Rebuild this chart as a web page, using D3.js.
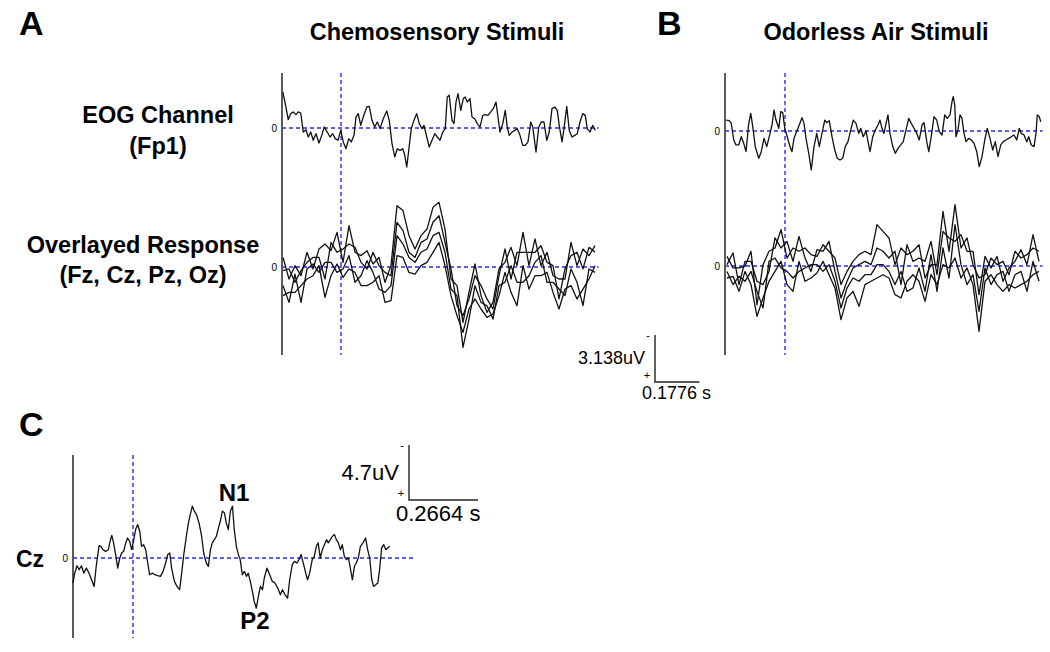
<!DOCTYPE html>
<html>
<head>
<meta charset="utf-8">
<script src="https://cdn.jsdelivr.net/npm/d3@7"></script>
<style>
  body { margin: 0; background: #fff; }
  svg { display: block; font-family: "Liberation Sans", Arial, sans-serif; }
</style>
</head>
<body>
<div class="chart"></div>
<script>
// ---- data: time in ms (stimulus onset = 0), amplitude in uV (negative up) ----

var eogChemo = [[-233,-2.40],[-224,-1.73],[-211,-0.56],[-201,-0.96],[-191,-1.07],[-180,-0.89],[-171,-1.07],[-161,-1.00],[-151,0.27],[-140,0.11],[-131,0.60],[-121,0.27],[-111,0.82],[-100,0.38],[-88,1.00],[-77,0.49],[-67,-0.07],[-55,0.27],[-44,0.60],[-33,0.38],[-23,0.71],[-12,0.82],[-1,0.16],[9,0.93],[20,1.38],[31,0.71],[41,0.93],[52,0.49],[60,-0.73],[69,-0.96],[79,-0.18],[89,-0.73],[103,-1.40],[113,-1.44],[124,-0.51],[135,-0.07],[145,-0.40],[156,0.04],[169,-0.62],[183,-1.13],[193,-0.51],[204,1.04],[215,1.93],[225,1.38],[236,1.49],[247,1.38],[255,1.82],[263,2.60],[271,1.49],[281,0.04],[292,-0.51],[303,-0.96],[313,-0.29],[324,0.04],[332,-0.18],[343,0.60],[353,1.27],[364,0.82],[375,0.38],[385,0.60],[396,0.82],[407,0.27],[417,0.04],[425,-2.07],[433,-2.18],[444,-0.51],[452,-0.29],[460,-1.73],[468,-2.29],[479,-1.18],[489,-1.96],[497,-2.07],[505,-1.73],[516,-1.96],[524,-0.73],[535,-0.62],[545,-0.29],[556,-0.07],[567,-0.84],[577,-0.89],[588,-0.84],[599,-1.07],[609,-1.29],[620,-1.73],[628,-0.73],[636,0.27],[647,-0.29],[657,-1.18],[665,-0.07],[673,0.49],[684,0.27],[695,0.16],[705,0.04],[716,0.49],[727,1.16],[737,1.16],[748,0.93],[759,-0.40],[767,-0.07],[780,1.60],[791,-0.07],[801,-0.40],[812,-0.40],[823,0.82],[833,0.27],[844,-1.29],[855,-1.40],[865,-1.18],[873,-0.18],[884,0.93],[892,0.04],[903,-1.44],[913,0.16],[924,0.60],[935,0.49],[945,0.38],[956,-0.40],[967,-0.96],[977,-0.84],[985,0.04],[996,0.27],[1007,-0.18],[1017,0.16]];

var eogAir = [[-235,-0.73],[-223,-0.69],[-215,-0.51],[-205,0.60],[-196,0.93],[-185,0.93],[-175,0.38],[-165,0.82],[-156,1.38],[-145,-0.51],[-137,-1.18],[-129,-0.29],[-119,1.04],[-105,1.82],[-95,1.38],[-84,0.49],[-73,1.04],[-63,0.38],[-52,-0.40],[-44,-1.40],[-36,-0.73],[-25,-0.18],[-17,-1.29],[-9,-1.22],[-1,-0.18],[9,0.38],[20,1.04],[28,1.38],[36,0.49],[47,0.04],[57,-0.40],[68,-0.89],[76,-0.51],[84,0.49],[95,1.49],[105,2.60],[116,1.04],[127,0.16],[137,1.04],[148,0.16],[159,-0.73],[167,-0.56],[177,-0.69],[188,0.38],[199,1.27],[209,1.82],[220,1.93],[231,1.82],[241,1.04],[252,0.71],[263,-0.07],[273,-0.73],[284,-0.51],[295,0.16],[303,-0.18],[313,0.38],[324,-0.02],[332,0.71],[340,1.38],[351,0.38],[361,-0.07],[372,-0.40],[380,-0.73],[388,-0.18],[396,0.16],[404,-0.51],[412,-1.07],[420,0.16],[431,1.04],[441,1.49],[452,1.16],[463,0.93],[473,0.71],[484,-0.07],[495,-0.84],[505,-0.51],[516,-0.18],[527,0.16],[537,0.60],[548,-0.40],[556,-0.56],[567,0.71],[575,1.38],[585,0.38],[596,-0.96],[607,-0.73],[617,0.04],[628,0.27],[639,-1.07],[649,-0.84],[660,-1.07],[668,-1.96],[673,-2.29],[679,-1.73],[684,0.38],[692,-0.07],[700,-1.07],[708,-0.84],[716,0.16],[724,0.71],[735,0.49],[745,0.60],[756,0.82],[767,1.38],[777,2.38],[788,1.71],[799,0.60],[809,-0.18],[820,0.49],[831,1.27],[841,0.71],[852,1.71],[863,0.93],[873,0.71],[884,0.60],[895,0.49],[905,0.38],[916,0.27],[927,0.60],[937,-0.18],[945,0.16],[956,0.27],[967,0.71],[975,0.38],[985,0.93],[996,1.04],[1004,0.16],[1009,-1.07],[1017,-0.96],[1023,-0.62]];

var czChemo = [[-232,2.14],[-225,1.29],[-216,0.66],[-208,1.00],[-199,0.66],[-190,1.29],[-180,0.86],[-170,1.29],[-160,1.86],[-150,2.43],[-142,0.71],[-131,-1.06],[-124,-1.00],[-116,-0.71],[-106,-0.57],[-95,-0.71],[-90,-1.29],[-82,-1.94],[-75,-1.29],[-67,-0.29],[-59,0.86],[-51,0.00],[-44,-0.43],[-36,-0.57],[-28,-1.29],[-21,-1.71],[-13,-1.43],[-5,-0.71],[3,-1.57],[10,-2.43],[18,-2.86],[26,-2.29],[33,-1.00],[41,-1.14],[49,-0.71],[57,0.43],[64,1.43],[75,1.29],[85,1.43],[95,1.51],[106,1.57],[116,1.14],[126,0.43],[134,-0.29],[142,-0.43],[149,0.86],[160,2.00],[170,2.43],[180,2.71],[188,1.29],[196,-0.29],[206,-1.86],[214,-3.00],[221,-3.71],[229,-4.43],[237,-4.00],[245,-3.71],[255,-3.00],[265,-1.86],[273,-0.43],[283,0.43],[291,0.71],[299,-0.71],[306,-1.29],[314,-1.57],[322,-1.86],[330,-2.57],[337,-3.14],[345,-4.00],[353,-3.86],[360,-3.00],[368,-2.43],[376,-4.00],[384,-4.43],[391,-2.43],[399,-1.00],[407,-0.29],[414,0.14],[422,1.43],[430,1.14],[438,1.57],[445,1.29],[453,2.00],[461,2.86],[468,3.71],[476,4.29],[484,3.29],[492,2.43],[500,2.71],[507,1.71],[517,0.86],[528,1.43],[538,2.00],[548,2.14],[559,2.57],[569,3.14],[577,2.71],[587,3.14],[597,3.43],[605,1.86],[615,0.57],[623,0.29],[633,0.43],[641,0.14],[649,-0.29],[659,0.57],[667,1.29],[674,1.86],[682,1.29],[692,0.14],[700,-0.14],[708,-1.00],[715,-1.29],[723,0.00],[731,-0.71],[739,-1.14],[747,-1.57],[754,-1.29],[762,-1.57],[770,-1.86],[778,-2.00],[785,-1.57],[793,-1.29],[801,-0.71],[808,-1.14],[816,-0.14],[824,0.14],[832,0.00],[839,0.86],[847,1.86],[855,0.71],[862,0.43],[870,0.00],[878,-1.00],[888,-1.29],[898,-1.71],[906,-0.71],[914,0.00],[922,1.86],[929,2.43],[937,2.29],[945,2.14],[952,1.00],[960,-0.86],[968,-1.14],[976,-0.71],[983,-0.86],[991,-1.00]];

// overlay channels share one sample grid (ms)
var sampleTimes = [-232,-208,-184,-160,-136,-112,-88,-64,-40,-16,8,32,56,80,104,128,152,176,200,224,248,272,296,320,344,368,392,416,440,464,488,512,536,560,584,608,632,656,680,704,728,752,776,800,824,848,872,896,920,944,968,992,1016];

var chemoFz = [-0.64,0.80,-0.09,0.58,-0.98,0.13,-1.20,-1.53,-1.09,-2.31,-0.31,-2.76,-0.98,-0.76,-1.09,-0.20,-0.64,1.02,-0.09,-4.09,-3.76,-2.09,-1.20,-2.09,-2.53,-3.98,-4.31,-2.53,0.80,1.24,3.69,1.69,-0.20,1.91,3.02,2.36,0.13,-0.31,-1.31,-0.09,-2.31,-0.09,-1.87,-0.09,-0.98,0.58,0.80,0.80,-1.64,-0.09,-1.20,-0.76,-1.42];
var chemoCz = [0.24,0.13,1.02,0.24,-0.31,-0.64,-0.64,0.80,-1.64,-0.98,-1.20,-1.53,-1.31,-0.31,0.13,-0.98,-0.09,0.36,0.58,-2.98,-2.42,-0.98,-0.64,-1.64,-1.87,-2.98,-3.42,-1.64,0.13,2.58,3.24,2.13,0.58,1.24,2.13,2.80,0.58,-1.20,0.80,-0.98,-0.98,-0.98,-0.98,-1.42,-0.31,-0.09,2.13,0.13,-0.76,-0.98,0.13,-1.31,-0.98];
var chemoPz = [1.24,2.36,0.47,2.36,0.13,-0.20,0.36,-0.31,-0.31,0.36,0.13,-0.76,1.02,0.58,-0.42,0.36,1.47,1.69,1.24,-2.09,-1.53,-0.64,-0.31,-0.98,-1.20,-2.09,-2.31,-0.98,1.47,1.91,5.36,3.47,1.24,2.36,2.58,3.47,1.24,1.02,-0.09,1.02,1.02,0.58,-0.31,-0.76,1.02,1.02,1.47,1.91,0.13,1.02,2.58,0.13,0.36];
var chemoOz = [1.91,1.69,1.69,1.24,0.80,0.58,-0.09,2.02,0.58,-0.20,0.69,0.13,0.36,1.24,1.24,1.02,0.58,2.36,2.24,-0.76,-0.64,0.36,0.47,-0.09,-0.31,-0.98,-1.64,-0.09,1.91,3.24,4.36,2.80,2.13,2.80,3.36,3.13,1.91,0.36,1.69,2.58,-0.09,1.47,0.58,0.58,0.36,1.69,2.80,1.47,1.24,2.13,1.47,0.80,-0.09];

var airFz = [-0.64,0.13,0.13,0.02,-0.98,2.58,-0.09,-0.98,-1.20,-2.42,-0.53,-1.20,-0.98,-1.20,-0.76,-0.64,-1.42,-0.98,-0.53,1.24,0.36,-0.31,-0.76,-0.98,-0.76,-2.76,-2.31,-1.87,-0.09,-1.20,-0.76,-0.98,-1.42,0.80,-0.09,-0.09,-3.64,-0.98,-4.09,-1.20,-1.87,-0.09,0.80,0.58,-0.53,-0.09,-0.31,0.58,-0.98,-0.53,-0.76,-1.20,-0.98];
var airCz = [-0.09,-0.87,1.24,-0.31,-0.31,1.02,1.24,0.36,-1.87,-1.20,-1.64,-0.31,-1.98,-0.53,0.36,-1.09,-0.98,-1.64,0.36,2.13,1.02,0.13,-0.09,-0.31,-0.09,-1.20,-0.98,-0.53,-0.98,1.24,-1.42,-0.31,-0.53,-0.31,-1.64,0.58,-2.31,-1.87,-1.64,-2.09,-0.98,-0.98,1.91,-0.64,0.13,-0.64,1.02,0.13,-0.31,-1.09,-0.09,-2.09,-0.31];
var airPz = [0.36,1.24,0.69,1.02,0.36,1.69,2.80,-0.31,-0.53,0.13,0.36,0.80,0.36,0.13,-0.09,-0.09,0.36,-0.09,1.02,2.80,1.47,0.80,1.02,0.58,0.58,-0.09,-0.09,0.36,1.24,0.36,1.69,1.47,0.13,1.69,-0.76,1.69,-1.20,0.80,-2.76,-0.09,1.24,0.58,3.02,0.13,1.24,0.58,0.36,1.69,0.58,0.36,1.69,-0.31,1.02];
var airOz = [0.80,0.69,1.69,0.36,1.24,3.36,2.13,1.02,0.36,-0.31,1.24,1.69,-0.31,1.02,0.80,0.47,-0.31,0.58,1.47,3.58,2.13,1.69,2.69,1.24,1.02,0.80,0.58,0.80,1.91,2.13,1.02,0.58,1.02,2.36,0.58,1.24,-0.09,0.13,-0.53,0.80,0.13,1.24,4.36,1.02,0.58,1.24,1.69,1.24,1.47,1.24,1.02,0.58,0.36];

// scale-bar values
var barAB = { uV: 3.138, s: 0.1776 };
var barC = { uV: 4.7, s: 0.2664 };

// ---- layout ----
var width = 1050, height = 652;

var svg = d3.select('.chart')
    .append('svg')
    .attr('width', width)
    .attr('height', height);

svg.append('rect').attr('width', width).attr('height', height).attr('fill', '#fff');

function toPairs(times, vals) {
    return times.map((t, i) => [t, vals[i]]);
}

// one EEG panel: axis, onset marker, zero lines, traces
function drawPanel(p) {
    var x = d3.scaleLinear().domain([0, 1000]).range([p.onsetX, p.onsetX + 1000 * p.pxPerMs]);
    var g = svg.append('g');

    g.append('line')
        .attr('x1', p.axisX).attr('x2', p.axisX)
        .attr('y1', p.top).attr('y2', p.bottom)
        .attr('stroke', '#333').attr('stroke-width', 1.6);

    g.append('line')
        .attr('x1', x(0)).attr('x2', x(0))
        .attr('y1', p.top).attr('y2', p.bottom)
        .attr('stroke', '#2a2aee').attr('stroke-width', 1.4)
        .attr('stroke-dasharray', '4,3');

    p.rows.forEach(function (row) {
        var y = d3.scaleLinear().domain([-5, 5]).range([row.zero - 5 * p.pxPerUv, row.zero + 5 * p.pxPerUv]);

        g.append('line')
            .attr('x1', p.axisX).attr('x2', x(p.zeroEnd))
            .attr('y1', y(0)).attr('y2', y(0))
            .attr('stroke', '#2a2aee').attr('stroke-width', 1.4)
            .attr('stroke-dasharray', '4,3');

        g.append('text')
            .attr('x', p.axisX - 5).attr('y', y(0) + 3.5)
            .attr('text-anchor', 'end')
            .style('font-size', '10px')
            .text('0');

        var line = d3.line().x(d => x(d[0])).y(d => y(d[1]));
        g.selectAll(null)
            .data(row.traces)
            .enter()
            .append('path')
            .attr('d', line)
            .attr('fill', 'none')
            .attr('stroke', '#111')
            .attr('stroke-width', 1.3)
            .attr('stroke-linejoin', 'round');
    });
    return { x: x, pxPerUv: p.pxPerUv, pxPerMs: p.pxPerMs };
}

var panelA = drawPanel({
    axisX: 282, onsetX: 341, top: 73, bottom: 355, pxPerMs: 0.25, pxPerUv: 15, zeroEnd: 1030,
    rows: [
        { zero: 128, traces: [eogChemo] },
        { zero: 267, traces: [chemoFz, chemoCz, chemoPz, chemoOz].map(v => toPairs(sampleTimes, v)) }
    ]
});

drawPanel({
    axisX: 725, onsetX: 785, top: 73, bottom: 355, pxPerMs: 0.25, pxPerUv: 15, zeroEnd: 1030,
    rows: [
        { zero: 131, traces: [eogAir] },
        { zero: 266, traces: [airFz, airCz, airPz, airOz].map(v => toPairs(sampleTimes, v)) }
    ]
});

var panelC = drawPanel({
    axisX: 73, onsetX: 133, top: 455, bottom: 638, pxPerMs: 0.259, pxPerUv: 11.7, zeroEnd: 1090,
    rows: [
        { zero: 558, traces: [czChemo] }
    ]
});

// scale bars (lengths come from the panel scales)
function scaleBar(ox, oy, bar, panel, size) {
    var h = bar.uV * panel.pxPerUv;
    var w = bar.s * 1000 * panel.pxPerMs;
    var g = svg.append('g');
    g.append('path')
        .attr('d', `M${ox},${oy - h}V${oy}H${ox + w}`)
        .attr('fill', 'none').attr('stroke', '#222').attr('stroke-width', 1.4);
    g.append('text').attr('x', ox - 7).attr('y', oy - h + 4).attr('text-anchor', 'middle')
        .style('font-size', '11px').text('-');
    g.append('text').attr('x', ox - 8).attr('y', oy - 3).attr('text-anchor', 'middle')
        .style('font-size', '11px').text('+');
    g.append('text').attr('x', ox - 10).attr('y', oy - h / 2 + size * 0.33)
        .attr('text-anchor', 'end').style('font-size', size + 'px')
        .text(bar.uV + 'uV');
    g.append('text').attr('x', ox - 13).attr('y', oy + size * 0.95)
        .style('font-size', size + 'px')
        .text(bar.s + ' s');
}
scaleBar(655, 382, barAB, panelA, 18);
scaleBar(409, 500, barC, panelC, 22);

// labels
function label(txt, x, y, size, anchor) {
    svg.append('text')
        .attr('x', x).attr('y', y)
        .attr('text-anchor', anchor || 'middle')
        .style('font-size', size + 'px')
        .style('font-weight', 'bold')
        .text(txt);
}
label('A', 19, 35, 34, 'start');
label('B', 657, 35, 34, 'start');
label('C', 19, 436, 34, 'start');
label('Chemosensory Stimuli', 437, 40, 23.5);
label('Odorless Air Stimuli', 876, 40, 23.5);
label('EOG Channel', 158, 123, 23.5);
label('(Fp1)', 158, 154, 23.5);
label('Overlayed Response', 143, 253, 23.5);
label('(Fz, Cz, Pz, Oz)', 143, 283, 23.5);
label('Cz', 16, 567, 23, 'start');
label('N1', 234, 501, 24);
label('P2', 255, 629, 24);
</script>
</body>
</html>
